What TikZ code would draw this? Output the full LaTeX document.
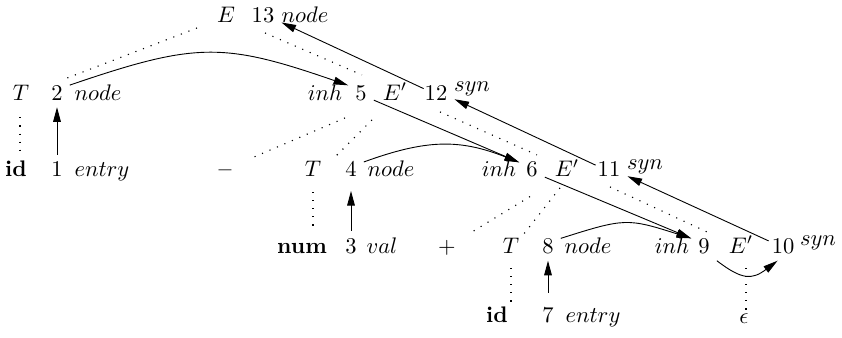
\documentclass[tikz,border=0pt]{standalone}
\usetikzlibrary{arrows.meta,calc}
\begin{document}
\begin{tikzpicture}[x=0.444pt,y=-0.444pt,
  txt/.style={anchor=base,inner sep=0pt},
  dig/.style={anchor=base,inner sep=3pt},
  tree/.style={line width=0.5pt,dash pattern=on 0.5pt off 3.1pt},
  arr/.style={line width=0.4pt,-{Triangle[length=6.5pt,width=3.4pt]}}]
\useasboundingbox (0,0) rectangle (842,338);
% row 1
\node[txt] (E1) at (226,23) {$E$};
\node[dig] (a13) at (263,23) {13};
\node[txt] (node13) at (305,23) {$node$};
% row 2
\node[txt] (T2) at (21,100) {$T$};
\node[dig] (a2) at (57,100) {2};
\node[txt] (node2) at (98,100) {$node$};
\node[txt] (inh5) at (325,100) {$inh$};
\node[dig] (a5) at (361,100) {5};
\node[txt] (E5) at (395,100) {$E'$};
\node[dig] (a12) at (436,100) {12};
\node[txt] (syn12) at (472,92) {$syn$};
% row 3
\node[txt] (id1) at (16,177) {\textbf{id}};
\node[dig] (a1) at (57,177) {1};
\node[txt] (entry1) at (102,177) {$entry$};
\node[txt] (minus) at (225,177) {\textbf{--}};
\node[txt] (T4) at (313,177) {$T$};
\node[dig] (a4) at (351,177) {4};
\node[txt] (node4) at (391,177) {$node$};
\node[txt] (inh6) at (499,177) {$inh$};
\node[dig] (a6) at (532,177) {6};
\node[txt] (E6) at (567,177) {$E'$};
\node[dig] (a11) at (609,177) {11};
\node[txt] (syn11) at (645,169) {$syn$};
% row 4
\node[txt] (num3) at (302,253) {\textbf{num}};
\node[dig] (a3) at (351,253) {3};
\node[txt] (val3) at (382,253) {$val$};
\node[txt] (plus) at (447,253) {$+$};
\node[txt] (T8) at (511,253) {$T$};
\node[dig] (a8) at (548,253) {8};
\node[txt] (node8) at (588,253) {$node$};
\node[txt] (inh9) at (672,253) {$inh$};
\node[dig] (a9) at (704,253) {9};
\node[txt] (E9) at (741,253) {$E'$};
\node[dig] (a10) at (783,253) {10};
\node[txt] (syn10) at (818,245) {$syn$};
% row 5
\node[txt] (id7) at (497,322) {\textbf{id}};
\node[dig] (a7) at (548,322) {7};
\node[txt] (entry7) at (593,322) {$entry$};
\node[txt] (eps) at (744,323) {$\epsilon$};
% parse tree (dotted)
\draw[tree] ($(E1)+(-29,12.7)$) -- ($(T2)+(41,-12.3)$);
\draw[tree] ($(E1)+(39,17.7)$) -- ($(E5)+(-33,-16.6)$);
\draw[tree] ($(T2)+(-1,25)$) -- ($(T2 |- id1)+(-1,-16)$);
\draw[tree] ($(E5)+(-50,26.4)$) -- ($(minus)+(25,-15)$);
\draw[tree] ($(E5)+(-23,28.4)$) -- ($(T4)+(22,-12.3)$);
\draw[tree] ($(E5)+(45,20.4)$) -- ($(E6)+(-30,-13.6)$);
\draw[tree] ($(T4)+(0,22.7)$) -- ($(T4 |- num3)+(0,-16)$);
\draw[tree] ($(E6)+(-37,28)$) -- ($(plus)+(25,-15.4)$);
\draw[tree] ($(E6)+(-7,19.4)$) -- ($(T8)+(12,-10.3)$);
\draw[tree] ($(E6)+(43,18.4)$) -- ($(E9)+(-34,-12.6)$);
\draw[tree] ($(T8)+(0,22.7)$) -- ($(T8 |- id7)+(0,-7.2)$);
\draw[tree] ($(E9)+(5,23.4)$) -- ($(E9 |- eps)+(5,-8.2)$);
% dependency arrows
\draw[arr] (a1.north) -- (a2.south);
\draw[arr,shorten >=3pt] (a3.north) -- (a4.south);
\draw[arr,shorten <=3pt] (a7.north) -- (a8.south);
\draw[arr] (a2.30) .. controls (196,42) and (223,42) .. (a5.150);
\draw[arr] (a4.30) .. controls (427,139) and (460,139) .. (a6.150);
\draw[arr] (a8.30) .. controls (625,218) and (627,218) .. (a9.150);
\draw[arr] (a9.south east) .. controls (742,280) and (752,280) .. (a10.-110);
\draw[arr] (a5.-30) -- (a6.150);
\draw[arr] (a6.-30) -- (a9.150);
\draw[arr,shorten <=-2pt] (a10.160) -- (a11.-20);
\draw[arr,shorten <=-2.5pt] (a11.160) -- (a12.-20);
\draw[arr,shorten <=-3pt] (a12.160) -- (a13.-20);
\end{tikzpicture}
\end{document}
